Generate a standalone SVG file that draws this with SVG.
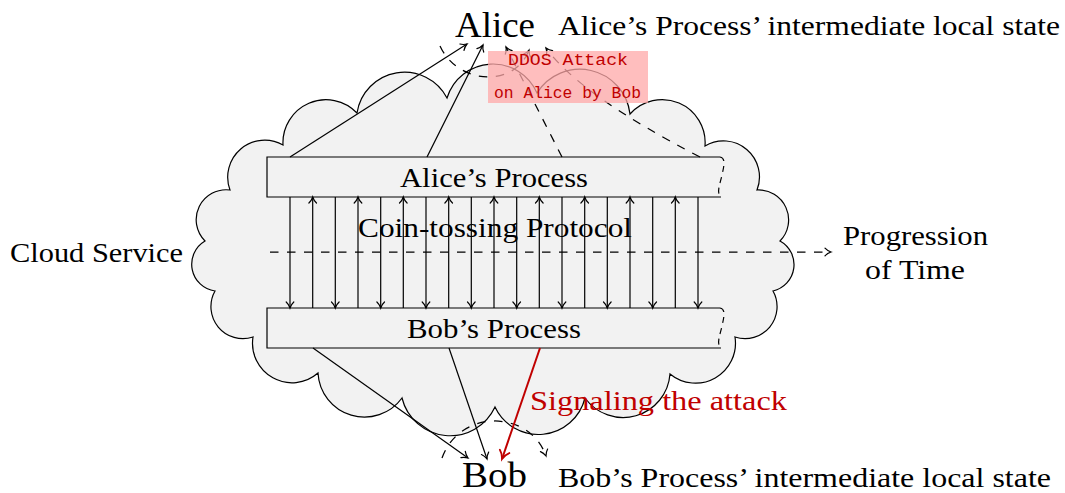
<svg xmlns="http://www.w3.org/2000/svg" width="1065" height="493" viewBox="0 0 1065 493">
<style>
.t{font-family:"Liberation Serif","Times New Roman",serif;fill:#000;}
.big{font-size:36px;}
.mid{font-size:27px;}
.red{fill:#c00000;}
.mono{font-family:"Liberation Mono","Courier New",monospace;font-size:16px;fill:#c00000;}
.ln{fill:none;stroke:#000;stroke-width:1.2;}
.dash{fill:none;stroke:#000;stroke-width:1.25;stroke-dasharray:8.5,8.5;}
</style>
<defs>
<marker id="ah" viewBox="-8 -6 10 12" refX="0" refY="0" markerWidth="10" markerHeight="12" orient="auto" markerUnits="userSpaceOnUse" overflow="visible">
<path d="M-6,-3.8 C-4,-1.6 -1.2,-0.4 0,0 C-1.2,0.4 -4,1.6 -6,3.8" fill="none" stroke="#000" stroke-width="1.2" stroke-linecap="round" stroke-dasharray="none"/>
</marker>
<marker id="ahr" viewBox="-10 -7 12 14" refX="0" refY="0" markerWidth="12" markerHeight="14" orient="auto" markerUnits="userSpaceOnUse" overflow="visible">
<path d="M-8,-5 C-5.5,-2 -1.6,-0.5 0,0 C-1.6,0.5 -5.5,2 -8,5" fill="none" stroke="#c00000" stroke-width="1.8" stroke-linecap="round"/>
</marker>
</defs>
<rect width="1065" height="493" fill="#fff"/>

<g id="cloud-service">
<path d="M447,98 A48,48 0 0 1 537,93 A50.5,50.5 0 0 1 630,114 A43,43 0 0 1 705,146 A36,36 0 0 1 757,190 A30,30 0 0 1 780,241 A27,27 0 0 1 773,291 A32,32 0 0 1 735,337 A40,40 0 0 1 670,374 A47,47 0 0 1 585,398 A48,48 0 0 1 495,407 A49.5,49.5 0 0 1 402,398 A46.5,46.5 0 0 1 318,373 A39.5,39.5 0 0 1 253,337 A32,32 0 0 1 215,291 A27,27 0 0 1 205,241 A30,30 0 0 1 230,190 A37,37 0 0 1 283,145 A43,43 0 0 1 357,113 A48,48 0 0 1 447,98 Z" fill="#f2f2f2" stroke="#000" stroke-width="1.2"/>
<text class="t mid" x="10" y="262" textLength="173" lengthAdjust="spacingAndGlyphs">Cloud Service</text>
</g>

<g id="alice-process">
<rect x="267" y="157" width="455" height="40" fill="#f2f2f2"/>
<path class="ln" d="M720,157 H267 V197 H721"/>
<path d="M720,157 C726,158 724,166 722,175 S716,193 721,197" fill="none" stroke="#000" stroke-width="1.2" stroke-dasharray="6,5"/>
<text class="t mid" x="400" y="187" textLength="188" lengthAdjust="spacingAndGlyphs">Alice’s Process</text>
</g>

<g id="bob-process">
<rect x="267" y="308" width="455" height="40" fill="#f2f2f2"/>
<path class="ln" d="M720,308 H267 V348 H721"/>
<path d="M720,308 C726,309 724,317 722,326 S716,344 721,348" fill="none" stroke="#000" stroke-width="1.2" stroke-dasharray="6,5"/>
<text class="t mid" x="407" y="338" textLength="174" lengthAdjust="spacingAndGlyphs">Bob’s Process</text>
</g>

<g id="connectors">
<path class="dash" d="M270,252 H831" marker-end="url(#ah)"/>
<g class="ln" marker-end="url(#ah)">
<path d="M290,197 V308"/>
<path d="M312.7,308 V197"/>
<path d="M335.3,197 V308"/>
<path d="M358,308 V197"/>
<path d="M380.7,197 V308"/>
<path d="M403.3,308 V197"/>
<path d="M426,197 V308"/>
<path d="M448.7,308 V197"/>
<path d="M471.3,197 V308"/>
<path d="M494,308 V197"/>
<path d="M516.7,197 V308"/>
<path d="M539.3,308 V197"/>
<path d="M562,197 V308"/>
<path d="M584.7,308 V197"/>
<path d="M607.3,197 V308"/>
<path d="M630,308 V197"/>
<path d="M652.7,197 V308"/>
<path d="M675.3,308 V197"/>
<path d="M698,197 V308"/>
</g>
<path class="ln" d="M290,157 L467,44" marker-end="url(#ah)"/>
<path class="ln" d="M427,157 L483,45" marker-end="url(#ah)"/>
<path class="dash" d="M562,157 L506,47" marker-end="url(#ah)"/>
<path class="dash" d="M700,157 Q580,95 546,48" marker-end="url(#ah)"/>
<path class="dash" d="M440,46 C458,85 515,88 529,50" marker-end="url(#ah)"/>
<path class="ln" d="M313,348 L468,458" marker-end="url(#ah)"/>
<path class="ln" d="M449,348 L487,459" marker-end="url(#ah)"/>
<path class="dash" d="M442,458 C460,408 530,410 546,456" marker-end="url(#ah)"/>
<path d="M540,348 L502,459" fill="none" stroke="#c00000" stroke-width="2" marker-end="url(#ahr)"/>
</g>

<g id="ddos-attack">
<rect x="488" y="51" width="160" height="52" fill="#ffa8a8" fill-opacity="0.75"/>
<text class="mono" x="508" y="65" textLength="120" lengthAdjust="spacingAndGlyphs">DDOS Attack</text>
<text class="mono" x="494" y="98" textLength="147" lengthAdjust="spacingAndGlyphs">on Alice by Bob</text>
</g>

<g id="alice">
<text class="t big" x="455" y="37" textLength="80" lengthAdjust="spacingAndGlyphs">Alice</text>
</g>
<g id="alice-state">
<text class="t mid" x="558" y="35" textLength="502" lengthAdjust="spacingAndGlyphs">Alice’s Process’ intermediate local state</text>
</g>
<g id="bob">
<text class="t big" x="462" y="487" textLength="65" lengthAdjust="spacingAndGlyphs">Bob</text>
</g>
<g id="bob-state">
<text class="t mid" x="558" y="487" textLength="493" lengthAdjust="spacingAndGlyphs">Bob’s Process’ intermediate local state</text>
</g>
<g id="labels">
<text class="t mid" x="358" y="237" textLength="274" lengthAdjust="spacingAndGlyphs">Coin-tossing Protocol</text>
<text class="t mid" x="843" y="245" textLength="145" lengthAdjust="spacingAndGlyphs">Progression</text>
<text class="t mid" x="865" y="279" textLength="100" lengthAdjust="spacingAndGlyphs">of Time</text>
<text class="t mid red" x="530" y="410" textLength="257" lengthAdjust="spacingAndGlyphs">Signaling the attack</text>
</g>
</svg>
